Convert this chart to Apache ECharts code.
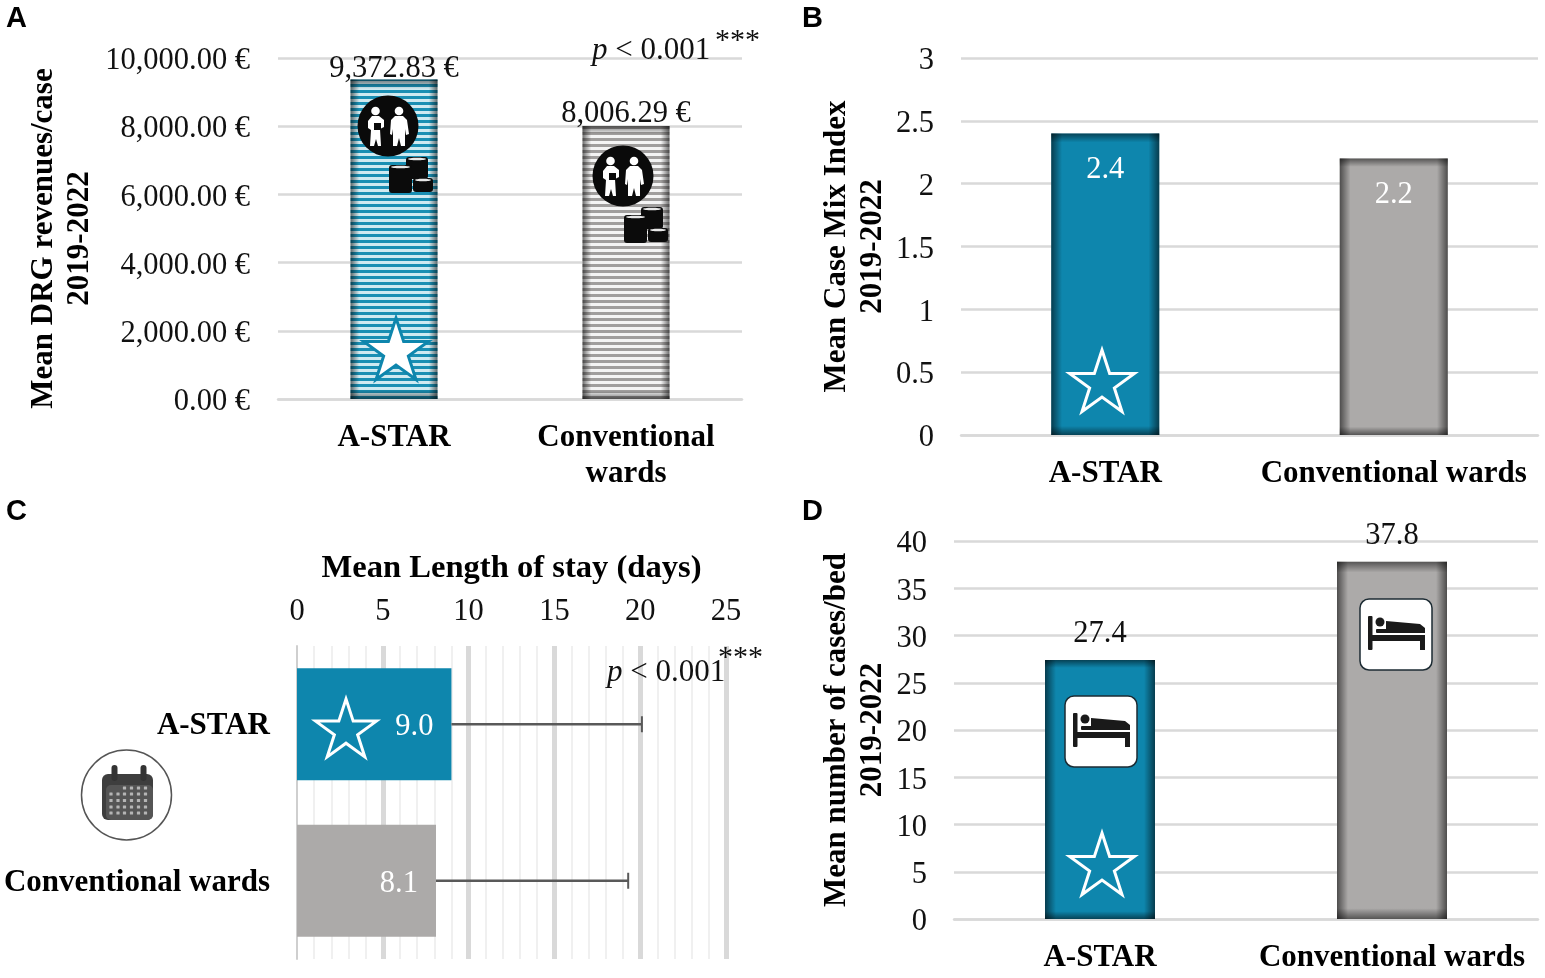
<!DOCTYPE html>
<html>
<head>
<meta charset="utf-8">
<title>A-STAR vs conventional wards</title>
<script src="https://cdn.jsdelivr.net/npm/echarts@6/dist/echarts.min.js"></script>
<style>
  html, body { margin: 0; padding: 0; background: #fff; }
  #chart { width: 1545px; height: 978px; }
</style>
</head>
<body>
<div id="chart"></div>
<script>
const revenueCats = ['A-STAR', 'Conventional\nwards']
const revenueValues = [9372.83, 8006.29]
const cmiCats = ['A-STAR', 'Conventional wards']
const cmiValues = [2.4, 2.2]
const losCats = ['A-STAR', 'Conventional wards']
const losValues = [9.0, 8.1]
const losUpper = [20.1, 19.3]
const casesCats = ['A-STAR', 'Conventional wards']
const casesValues = [27.4, 37.8]

const TEAL = '#0e86ad'
const GREY = '#acaaa9'
const GRID_GREY = '#d9d9d9'
const SERIF = '"Liberation Serif", "Times New Roman", serif'
const FS = 30.5
const FS_BOLD = 31

// padding only moves a label when it is top aligned, so nudge down that way
function nudge (dy, size) {
  return { verticalAlign: 'top', padding: [dy - size / 2, 0, 0, 0] }
}

function stripes (dark, light) {
  const c = document.createElement('canvas')
  c.width = 4
  c.height = 6
  const ctx = c.getContext('2d')
  ctx.fillStyle = light
  ctx.fillRect(0, 0, 4, 6)
  ctx.fillStyle = dark
  ctx.fillRect(0, 0, 4, 3)
  return { image: c, repeat: 'repeat' }
}

function edge (x2, y2, alpha, w) {
  return {
    type: 'linear', x: 0, y: 0, x2: x2, y2: y2,
    colorStops: [
      { offset: 0, color: 'rgba(0,0,0,' + alpha + ')' },
      { offset: w, color: 'rgba(0,0,0,0)' },
      { offset: 1 - w, color: 'rgba(0,0,0,0)' },
      { offset: 1, color: 'rgba(0,0,0,' + alpha + ')' }
    ]
  }
}

// three stacked layers per bar: fill, left/right shading, top/bottom shading
function shadedBars (idx, values, fills, barWidth, label, distances) {
  const base = { type: 'bar', xAxisIndex: idx, yAxisIndex: idx, barWidth: barWidth, barGap: '-100%' }
  return [
    { ...base, data: values.map((v, i) => ({ value: v, itemStyle: { color: fills[i] } })) },
    { ...base, data: values, itemStyle: { color: edge(1, 0, 0.55, 0.1) } },
    {
      ...base,
      data: values.map((v, i) => ({ value: v, label: { distance: distances[i] } })),
      itemStyle: { color: edge(0, 1, 0.5, 0.03) },
      label: label
    }
  ]
}

function valueAxis (idx, max, interval, name, gap, extra) {
  return {
    type: 'value',
    gridIndex: idx,
    min: 0,
    max: max,
    interval: interval,
    name: name,
    nameLocation: 'middle',
    nameGap: gap,
    nameMoveOverlap: false,
    nameTextStyle: { fontFamily: SERIF, fontWeight: 'bold', fontSize: FS_BOLD, color: '#000', lineHeight: 36 },
    axisLine: { show: false },
    axisTick: { show: false },
    axisLabel: { fontFamily: SERIF, fontSize: FS, color: '#111', margin: 27, ...nudge(3, FS) },
    splitLine: { lineStyle: { color: GRID_GREY, width: 2.5 } },
    ...extra
  }
}

function catAxis (idx, data) {
  return {
    type: 'category',
    gridIndex: idx,
    data: data,
    axisLine: { lineStyle: { color: GRID_GREY, width: 2.5 } },
    axisTick: { show: false },
    axisLabel: { fontFamily: SERIF, fontWeight: 'bold', fontSize: FS_BOLD, color: '#000', margin: 21, lineHeight: 36, interval: 0 }
  }
}

function starPoints (cx, cy, r) {
  const pts = []
  for (let i = 0; i < 10; i++) {
    const rad = i % 2 ? r * 0.382 : r
    const a = -Math.PI / 2 + i * Math.PI / 5
    pts.push([cx + rad * Math.cos(a), cy + rad * Math.sin(a)])
  }
  return pts
}

function star (cx, cy, r, fill, stroke) {
  return {
    type: 'polygon', z: 100,
    shape: { points: starPoints(cx, cy, r) },
    style: { fill: fill, stroke: stroke, lineWidth: 3 }
  }
}

function poly (points, fill) {
  return { type: 'polygon', z: 100, shape: { points: points }, style: { fill: fill } }
}

function box (x, y, w, h, r, fill, stroke) {
  return { type: 'rect', z: 100, shape: { x: x, y: y, width: w, height: h, r: r }, style: { fill: fill, stroke: stroke, lineWidth: stroke ? 1.5 : 0 } }
}

function dot (cx, cy, r, fill) {
  return { type: 'circle', z: 100, shape: { cx: cx, cy: cy, r: r }, style: { fill: fill } }
}

function coin (x, y, w, h) {
  return [
    box(x, y, w, h, 3, '#0b0b0b'),
    { type: 'ellipse', z: 100, shape: { cx: x + w / 2, cy: y + 2, rx: w / 2 - 2, ry: 1.3 }, style: { fill: '#e8e8e8' } }
  ]
}

// doctor + patient badge with coin stacks, origin at the badge centre
function staffIcon (x, y) {
  return {
    type: 'group', x: x, y: y,
    children: [
      dot(0, 0, 30.5, '#0a0a0a'),
      dot(-12.5, -15, 4.3, '#fff'),
      dot(11, -15, 4.3, '#fff'),
      poly([[-16, -10], [-9, -10], [-4, -6], [-4, 1], [-8, 3], [-7, 20], [-10, 20], [-12, 13], [-14, 20], [-18, 20], [-17, 4], [-20, 2], [-20, -5]], '#fff'),
      box(-14, -3, 7, 7, 0, '#0a0a0a'),
      poly([[7, -10], [15, -10], [19, -6], [21, 8], [18, 9], [17, 3], [17, 20], [13, 20], [11, 12], [9, 20], [5, 20], [5, 3], [4, 9], [2, 8], [3, -6]], '#fff'),
      ...coin(18, 31, 22, 22),
      ...coin(25, 52, 20, 14),
      ...coin(1, 39, 23, 28)
    ]
  }
}

function bedIcon (x, y) {
  return {
    type: 'group', x: x, y: y,
    children: [
      box(0, 0, 72, 71, 9, '#fff', '#1c2b33'),
      box(8, 17, 4.5, 34, 1, '#1a1a1a'),
      dot(20, 23, 4.5, '#1a1a1a'),
      poly([[26, 22], [60, 25], [65, 29], [65, 34], [26, 34]], '#1a1a1a'),
      box(16, 30, 12, 4, 1, '#1a1a1a'),
      box(12, 36, 53, 6, 0, '#1a1a1a'),
      box(60, 42, 5, 9, 0, '#1a1a1a')
    ]
  }
}

function calendarIcon () {
  const dotRows = [788, 794, 800.5, 807, 813]
  const dotCols = [111, 118, 124.5, 131.5, 138.5, 145.5]
  const dots = []
  dotRows.forEach((y, r) => {
    dotCols.forEach((x, c) => {
      if (r === 0 && c < 2) return
      dots.push(box(x - 1.6, y - 1.6, 3.2, 3.2, 0.5, '#b5b5b5'))
    })
  })
  return {
    type: 'group',
    children: [
      { type: 'circle', z: 100, shape: { cx: 126.5, cy: 795, r: 45 }, style: { fill: '#fff', stroke: '#555', lineWidth: 1.5 } },
      box(102, 774, 51, 46, 6, '#3e3e3e'),
      box(106, 785, 47, 35, 5, '#555'),
      box(111.5, 765, 6, 16, 3, '#333'),
      box(140.5, 765, 6, 16, 3, '#333'),
      ...dots
    ]
  }
}

function pValue (x, y, starsX, starsY) {
  return [
    {
      type: 'text', x: x, y: y, z: 100,
      style: {
        text: '{i|p} < 0.001',
        verticalAlign: 'middle',
        font: '31px ' + SERIF,
        fill: '#111',
        rich: { i: { fontFamily: SERIF, fontStyle: 'italic', fontSize: 31, fill: '#111' } }
      }
    },
    { type: 'text', x: starsX, y: starsY, z: 100, style: { text: '***', verticalAlign: 'middle', font: '30px ' + SERIF, fill: '#111' } }
  ]
}

function panelLetter (text, x, y) {
  return {
    type: 'text', x: x, y: y, z: 100,
    style: { text: text, verticalAlign: 'middle', font: 'bold 29px "Liberation Sans", Arial, sans-serif', fill: '#000' }
  }
}

const chart = echarts.init(document.getElementById('chart'))

const option = {
  animation: false,
  backgroundColor: '#fff',
  grid: [
    { left: 278, top: 58, width: 464, height: 341, outerBoundsMode: 'none' },
    { left: 961, top: 58, width: 577, height: 377, outerBoundsMode: 'none' },
    { left: 297, top: 646, width: 429, height: 313, outerBoundsMode: 'none' },
    { left: 954, top: 541, width: 584, height: 378, outerBoundsMode: 'none' }
  ],
  xAxis: [
    catAxis(0, revenueCats),
    catAxis(1, cmiCats),
    {
      type: 'value',
      gridIndex: 2,
      position: 'top',
      min: 0,
      max: 25,
      interval: 5,
      name: 'Mean Length of stay (days)',
      nameLocation: 'middle',
      nameGap: 61,
      nameMoveOverlap: false,
      nameTextStyle: { fontFamily: SERIF, fontWeight: 'bold', fontSize: 32.6, color: '#000' },
      axisLine: { show: false },
      axisTick: { show: false },
      axisLabel: { fontFamily: SERIF, fontSize: FS, color: '#111', margin: 19 },
      splitLine: { showMinLine: false, lineStyle: { color: GRID_GREY, width: 5 } },
      minorTick: { show: false, splitNumber: 5 },
      minorSplitLine: { show: true, lineStyle: { color: '#ececec', width: 1.5 } }
    },
    catAxis(3, casesCats)
  ],
  yAxis: [
    valueAxis(0, 10000, 2000, 'Mean DRG revenues/case\n2019-2022', 180, {
      nameTextStyle: { fontFamily: SERIF, fontWeight: 'bold', fontSize: FS_BOLD, color: '#000', lineHeight: 36, padding: [0, 20, 0, 0] },
      axisLabel: {
        fontFamily: SERIF, fontSize: FS, color: '#111', margin: 28, ...nudge(3, FS),
        formatter: v => v.toLocaleString('en-US', { minimumFractionDigits: 2, maximumFractionDigits: 2 }) + ' €'
      }
    }),
    valueAxis(1, 3, 0.5, 'Mean Case Mix Index\n2019-2022', 70),
    {
      type: 'category',
      gridIndex: 2,
      inverse: true,
      data: losCats,
      axisLine: { lineStyle: { color: '#cfcfcf', width: 2 } },
      axisTick: { show: false },
      axisLabel: { fontFamily: SERIF, fontWeight: 'bold', fontSize: FS_BOLD, color: '#000', margin: 27, ...nudge(2, FS_BOLD) }
    },
    valueAxis(3, 40, 5, 'Mean number of cases/bed\n2019-2022', 63)
  ],
  series: [
    ...shadedBars(0, revenueValues, [stripes('#1a8fb3', '#cfeaf1'), stripes('#a09e9d', '#f4f4f4')], 87, {
      show: true, position: 'top',
      fontFamily: SERIF, fontSize: FS, color: '#111',
      formatter: p => p.value.toLocaleString('en-US', { minimumFractionDigits: 2 }) + ' €'
    }, [-5, -3]),
    ...shadedBars(1, cmiValues, [TEAL, GREY], 108, {
      show: true, position: 'insideTop',
      fontFamily: SERIF, fontSize: FS, color: '#fff',
      formatter: p => p.value.toFixed(1)
    }, [21, 21]),
    {
      type: 'bar',
      xAxisIndex: 2,
      yAxisIndex: 2,
      barWidth: 112,
      data: losValues.map((v, i) => ({ value: v, itemStyle: { color: [TEAL, GREY][i] } })),
      label: {
        show: true, position: 'insideRight', distance: 18, offset: [0, 3],
        fontFamily: SERIF, fontSize: FS, color: '#fff',
        formatter: p => p.value.toFixed(1)
      }
    },
    {
      type: 'custom',
      xAxisIndex: 2,
      yAxisIndex: 2,
      z: 5,
      encode: { x: [0, 1], y: 2 },
      data: losValues.map((v, i) => [v, losUpper[i], i]),
      renderItem: function (params, api) {
        const from = api.coord([api.value(0), api.value(2)])
        const to = api.coord([api.value(1), api.value(2)])
        const style = { stroke: '#595959', lineWidth: 2.5 }
        return {
          type: 'group',
          children: [
            { type: 'line', shape: { x1: from[0], y1: from[1], x2: to[0], y2: to[1] }, style: style },
            { type: 'line', shape: { x1: to[0], y1: to[1] - 8, x2: to[0], y2: to[1] + 8 }, style: { stroke: '#595959', lineWidth: 2 } }
          ]
        }
      }
    },
    ...shadedBars(3, casesValues, [TEAL, GREY], 110, {
      show: true, position: 'top',
      fontFamily: SERIF, fontSize: FS, color: '#111',
      formatter: p => p.value.toFixed(1)
    }, [11, 10])
  ],
  graphic: {
    elements: [
      panelLetter('A', 6, 19),
      panelLetter('B', 802, 19),
      panelLetter('C', 6, 512),
      panelLetter('D', 802, 512),
      ...pValue(592, 51, 715, 41),
      ...pValue(607, 673, 718, 658),
      star(396, 352, 34, '#fff', TEAL),
      star(1102, 384, 34, 'none', '#fff'),
      star(346, 731, 32, 'none', '#fff'),
      star(1102, 867, 34, 'none', '#fff'),
      staffIcon(388, 126),
      staffIcon(623, 176),
      bedIcon(1065, 696),
      bedIcon(1360, 599),
      calendarIcon()
    ]
  }
}

chart.setOption(option)
</script>
</body>
</html>
